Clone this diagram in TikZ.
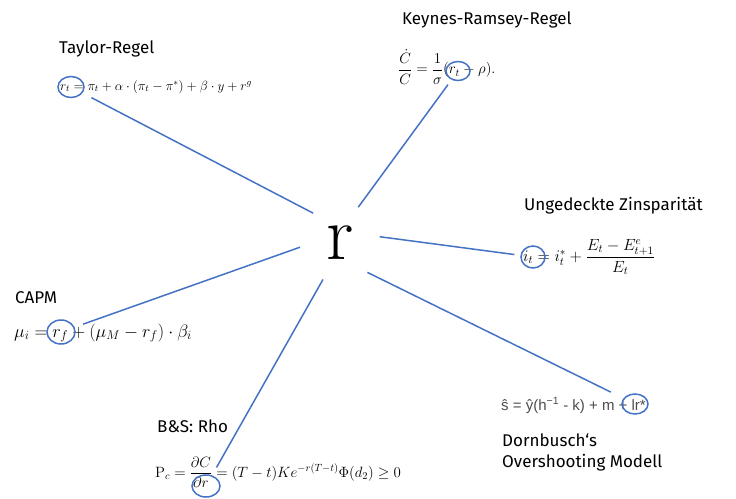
\RequirePackage{fix-cm}
\documentclass[tikz,border=0pt]{standalone}
\usepackage{amsmath,amssymb}
\usepackage{fontspec}
\setsansfont{Fira Sans}
\newfontfamily\arialfont{Liberation Sans}
\usetikzlibrary{shapes.geometric}
\definecolor{ringblue}{RGB}{68,114,196}

\begin{document}
\begin{tikzpicture}[x=1pt, y=-1pt,
  every node/.style={inner sep=0pt},
  lbl/.style={anchor=base west, font=\sffamily\fontsize{17}{21}\selectfont, align=left},
  ring/.style={draw=ringblue, line width=1.5pt, ellipse, minimum width=#1},
  ring/.default=26pt,
  spoke/.style={draw=ringblue, line width=1.5pt, shorten >=6pt}]
\useasboundingbox (0,0) rectangle (736,498);
% centre
\node[circle, minimum size=80pt, font=\fontsize{77}{80}\selectfont] (r) at (340,243) {r};
% labels
\node[lbl] (taylor) at (59,53) {Taylor-Regel};
\node[lbl] (keynes) at (402,24) {Keynes-Ramsey-Regel};
\node[lbl] (uip) at (524,210) {Ungedeckte Zinsparität};
\node[lbl] (capm) at (15,303) {CAPM};
\node[lbl] (dorn) at (502,467) {Dornbusch‘s\\Overshooting Modell};
\node[lbl] (bs) at (157,432) {B\&S: Rho};
% formulas
\node[anchor=base west, font=\fontsize{13.3}{16}\selectfont] (fTaylor) at (60,90)
  {$r_t = \pi_t + \alpha\cdot(\pi_t-\pi^*)+\beta\cdot y + r^g$};
\node[anchor=west, font=\fontsize{15}{18}\selectfont] (fKeynes) at (398,67)
  {$\dfrac{\dot C}{C} = \dfrac{1}{\sigma}(r_t - \rho).$};
\node[anchor=west, font=\fontsize{16.2}{19}\selectfont] (fUip) at (523,257)
  {$i_t = i_t^* + \dfrac{E_t - E^e_{t+1}}{E_t}$};
\node[anchor=base west, font=\fontsize{18}{21}\selectfont] (fCapm) at (14,337)
  {$\mu_i = r_f + (\mu_M - r_f)\cdot\beta_i$};
\node[anchor=base west, font=\arialfont\fontsize{15}{18}\selectfont, text=black!70] (fDorn) at (501,410)
  {ŝ = ŷ(h\textsuperscript{−1} - k) + m + lr*};
\node[anchor=west, font=\fontsize{14.9}{18}\selectfont] (fBs) at (155,472)
  {$\mathrm{P}_c = \dfrac{\partial C}{\partial r} = (T-t)Ke^{-r(T-t)}\Phi(d_2) \ge 0$};
% rings
\node[ring, minimum height=21pt] (cTaylor) at (71,87) {};
\node[ring=24pt, minimum height=19pt] (cKeynes) at (458,71) {};
\node[ring=24pt, minimum height=22pt] (cUip) at (533,257) {};
\node[ring=28pt, minimum height=24pt] (cCapm) at (61,332) {};
\node[ring=26pt, minimum height=20pt] (cDorn) at (635,404) {};
\node[ring=28pt, minimum height=22pt] (cBs) at (206,486) {};
% spokes
\draw[spoke, shorten >=10pt] (r.132) -- (cTaylor);
\draw[spoke] (r.63) -- (cKeynes);
\draw[spoke] (r.9) -- (cUip);
\draw[spoke, shorten >=9pt] (r.186) -- (cCapm);
\draw[spoke, shorten >=9pt] (r.245) -- (cBs);
\draw[spoke, shorten >=14pt] (r.313) -- (cDorn);
\end{tikzpicture}
\end{document}
